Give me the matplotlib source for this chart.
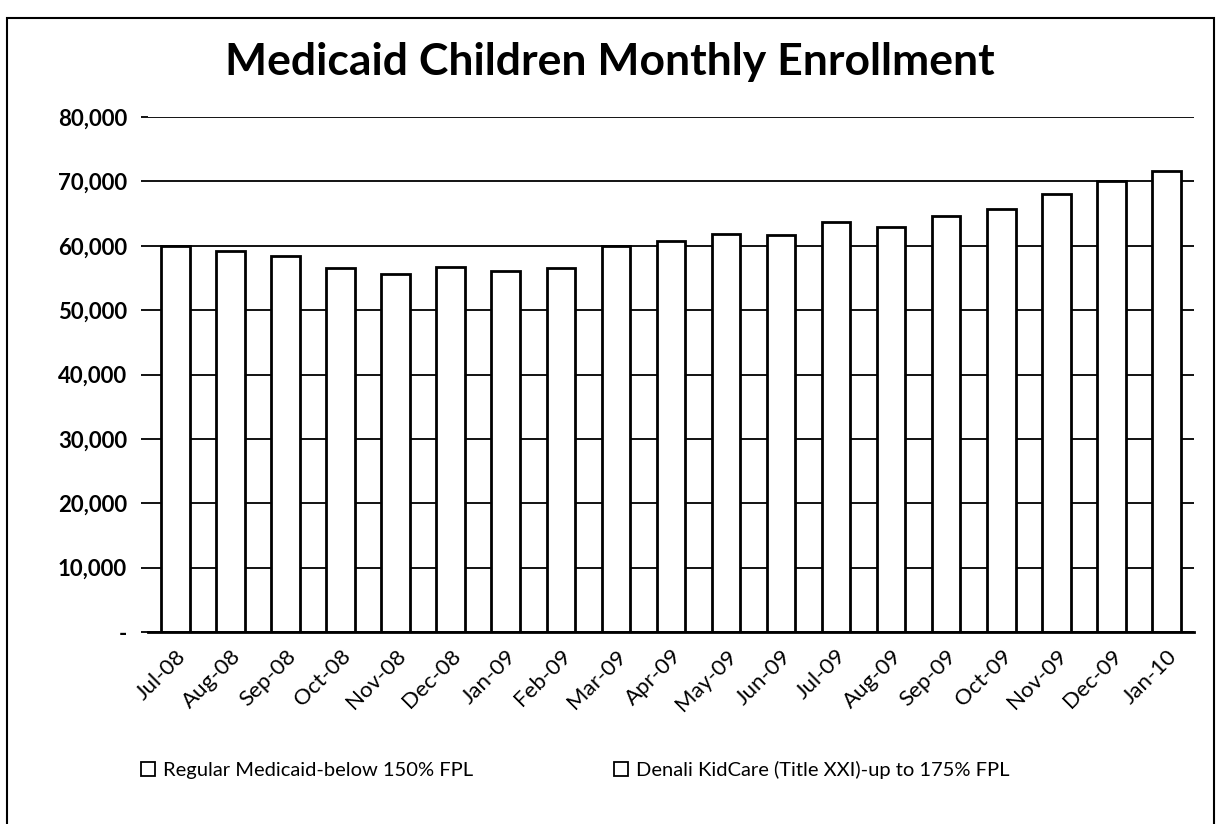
import numpy as np
import matplotlib.pyplot as plt
from matplotlib.patches import Patch, Rectangle
from matplotlib.ticker import FuncFormatter

months = ["Jul-08", "Aug-08", "Sep-08", "Oct-08", "Nov-08", "Dec-08", "Jan-09",
          "Feb-09", "Mar-09", "Apr-09", "May-09", "Jun-09", "Jul-09", "Aug-09",
          "Sep-09", "Oct-09", "Nov-09", "Dec-09", "Jan-10"]
# both series are printed white, so the split is a guess; totals
regular = [52400, 51800, 51100, 49500, 48600, 49600, 49100, 49400, 52500, 53300,
           54000, 53800, 55500, 54700, 56200, 57100, 59200, 61000, 62400]
denali = [7500, 7400, 7300, 7100, 7000, 7100, 7000, 7100, 7400, 7500,
          7800, 7900, 8200, 8200, 8400, 8600, 8800, 9000, 9200]
yticks = [0, 10000, 20000, 30000, 40000, 50000, 60000, 70000, 80000]

plt.rcParams['font.family'] = ['Lato', 'DejaVu Sans']

fig = plt.figure(figsize=(12.19, 8.24), dpi=100)
ax = fig.add_axes([0.1214, 0.233, 0.858, 0.625])

x = np.arange(len(months))
w = 0.52
ax.bar(x, regular, w, color='white', linewidth=0, zorder=2)
ax.bar(x, denali, w, bottom=regular, color='white', linewidth=0, zorder=2)
total = np.array(regular) + np.array(denali)
ax.bar(x, total, w, fill=False, edgecolor='black', linewidth=2, zorder=3)

ax.set_xlim(-0.5, len(months) - 0.5)
ax.set_ylim(0, 80000)
ax.set_yticks(yticks)
ax.yaxis.set_major_formatter(FuncFormatter(lambda v, p: '-' if v == 0 else f'{int(v):,}'))
ax.grid(axis='y', color='black', linewidth=1.3, zorder=0)
ax.set_axisbelow(True)
for s in ['left', 'right', 'top']:
    ax.spines[s].set_visible(False)
ax.spines['bottom'].set_linewidth(2)
ax.tick_params(axis='y', length=5, width=1.3, labelsize=16, pad=10)
ax.tick_params(axis='x', length=0, labelsize=16, pad=10)
ax.set_xticks(x)
ax.set_xticklabels(months, rotation=45, ha='right', rotation_mode='anchor')
for t in ax.get_yticklabels():
    t.set_fontweight('bold')

fig.text(0.5, 0.925, "Medicaid Children Monthly Enrollment", ha='center', va='center',
         fontsize=32, fontweight='bold')

handles = [Patch(facecolor='white', edgecolor='black', linewidth=1.3),
           Patch(facecolor='white', edgecolor='black', linewidth=1.3)]
fig.legend(handles, ["Regular Medicaid-below 150% FPL", "Denali KidCare (Title XXI)-up to 175% FPL"],
           loc='center', bbox_to_anchor=(0.472, 0.066), ncol=2, frameon=False, fontsize=14.5,
           handlelength=0.7, handleheight=0.7, handletextpad=0.4, columnspacing=7.0)

fig.patches.append(Rectangle((0.006, -0.05), 0.99, 1.028, transform=fig.transFigure,
                             fill=False, edgecolor='black', linewidth=1.5))

fig.savefig("out.png", dpi=100)
